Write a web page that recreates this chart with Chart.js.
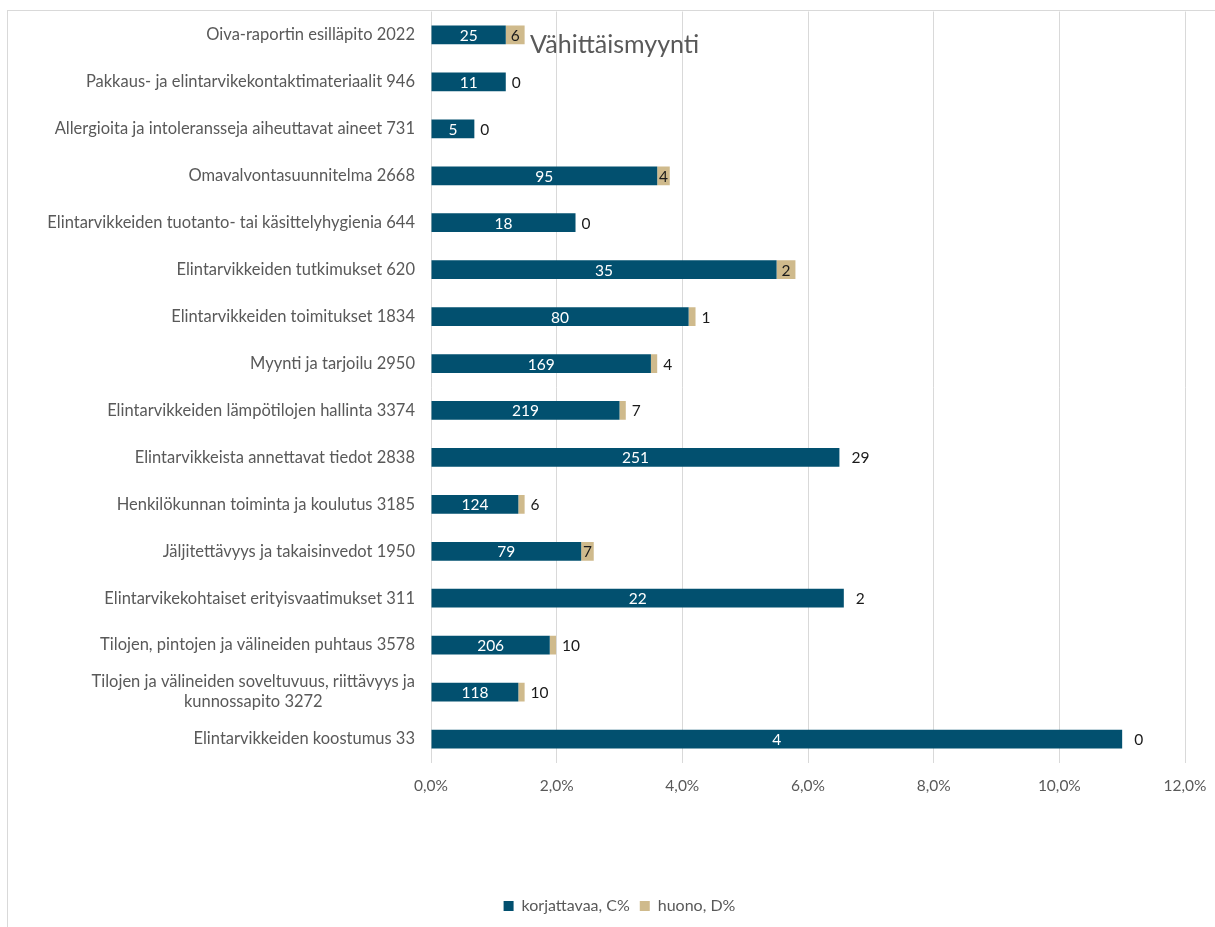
<!DOCTYPE html>
<html lang="fi">
<head>
<meta charset="utf-8">
<title>Vähittäismyynti</title>
<script src="https://cdn.jsdelivr.net/npm/chart.js@4/dist/chart.umd.min.js"></script>
<style>
  html, body { margin: 0; padding: 0; background: #ffffff; }
  #wrap { width: 1215px; height: 927px; position: relative; }
</style>
</head>
<body>
<div id="wrap"><canvas id="chart" width="1215" height="927"></canvas></div>
<script>
// Inspection topics (count of inspections after the name)
const categories = [
  'Oiva-raportin esilläpito 2022',
  'Pakkaus- ja elintarvikekontaktimateriaalit 946',
  'Allergioita ja intoleransseja aiheuttavat aineet 731',
  'Omavalvontasuunnitelma 2668',
  'Elintarvikkeiden tuotanto- tai käsittelyhygienia 644',
  'Elintarvikkeiden tutkimukset 620',
  'Elintarvikkeiden toimitukset 1834',
  'Myynti ja tarjoilu 2950',
  'Elintarvikkeiden lämpötilojen hallinta 3374',
  'Elintarvikkeista annettavat tiedot 2838',
  'Henkilökunnan toiminta ja koulutus 3185',
  'Jäljitettävyys ja takaisinvedot 1950',
  'Elintarvikekohtaiset erityisvaatimukset 311',
  'Tilojen, pintojen ja välineiden puhtaus 3578',
  ['Tilojen ja välineiden soveltuvuus, riittävyys ja', 'kunnossapito 3272'],
  'Elintarvikkeiden koostumus 33'
];

// Share of grades (percent)
const correctPct = [1.19, 1.19, 0.69, 3.60, 2.30, 5.50, 4.10, 3.50, 3.00, 6.50, 1.39, 2.39, 6.57, 1.89, 1.39, 11.0];
const poorPct    = [0.30, 0.00, 0.00, 0.20, 0.00, 0.30, 0.11, 0.10, 0.10, 0.00, 0.10, 0.20, 0.00, 0.10, 0.10, 0.00];

// Number of grades shown as bar labels
const correctCount = [25, 11, 5, 95, 18, 35, 80, 169, 219, 251, 124, 79, 22, 206, 118, 4];
const poorCount    = [6, 0, 0, 4, 0, 2, 1, 4, 7, 29, 6, 7, 2, 10, 10, 0];

const seriesNames = ['korjattavaa, C%', 'huono, D%'];
const xTickValues = [0, 2, 4, 6, 8, 10, 12];
const titleText = 'Vähittäismyynti';

const FONT = 'Lato, "Open Sans", "Liberation Sans", sans-serif';
const GREY = '#595959';
const BLUE = '#02506f';
const BEIGE = '#cfba8c';

// Outer frame of the chart
const framePlugin = {
  id: 'frame',
  beforeDraw(chart) {
    const ctx = chart.ctx;
    ctx.save();
    ctx.fillStyle = '#ffffff';
    ctx.fillRect(0, 0, chart.width, chart.height);
    ctx.strokeStyle = '#d9d9d9';
    ctx.lineWidth = 1;
    ctx.strokeRect(7.5, 10.5, chart.width + 20, chart.height + 20);
    ctx.restore();
  }
};

// Shift the legend so it sits centred under the whole frame
const legendShiftPlugin = {
  id: 'legendShift',
  afterLayout(chart) {
    if (chart.legend) {
      chart.legend.left += 27;
      chart.legend.right += 27;
    }
  }
};

// Category labels: right-aligned block, wrapped lines centred on each other
const categoryLabelPlugin = {
  id: 'categoryLabels',
  afterDraw(chart) {
    const ctx = chart.ctx;
    const yScale = chart.scales.y;
    const right = chart.chartArea.left - 16;
    const lineH = 20;
    ctx.save();
    ctx.font = '16.5px ' + FONT;
    ctx.fillStyle = GREY;
    ctx.textAlign = 'center';
    ctx.textBaseline = 'middle';
    categories.forEach((lab, i) => {
      const lines = Array.isArray(lab) ? lab : [lab];
      const maxW = Math.max(...lines.map(l => ctx.measureText(l).width));
      const cx = right - maxW / 2;
      const cy = yScale.getPixelForValue(i);
      lines.forEach((l, j) => {
        ctx.fillText(l, cx, cy + (j - (lines.length - 1) / 2) * lineH);
      });
    });
    ctx.restore();
  }
};

// Count labels on the bars
const valueLabelPlugin = {
  id: 'valueLabels',
  afterDatasetsDraw(chart) {
    const ctx = chart.ctx;
    ctx.save();
    ctx.font = '15.5px ' + FONT;
    ctx.textBaseline = 'middle';
    const metaC = chart.getDatasetMeta(0);
    const metaD = chart.getDatasetMeta(1);
    metaC.data.forEach((bar, i) => {
      ctx.fillStyle = '#ffffff';
      ctx.textAlign = 'center';
      ctx.fillText(String(correctCount[i]), (bar.x + bar.base) / 2, bar.y + 1);
    });
    metaD.data.forEach((bar, i) => {
      const w = Math.abs(bar.x - bar.base);
      ctx.fillStyle = '#1a1a1a';
      if (w >= 10) {
        ctx.textAlign = 'center';
        ctx.fillText(String(poorCount[i]), (bar.x + bar.base) / 2, bar.y + 1);
      } else {
        ctx.textAlign = 'left';
        const gap = poorPct[i] === 0 && correctPct[i] > 6 ? 12 : 6;
        ctx.fillText(String(poorCount[i]), Math.max(bar.x, bar.base) + gap, bar.y + 1);
      }
    });
    ctx.restore();
  }
};

// Title placed inside the plot, next to the first bars
const titlePlugin = {
  id: 'innerTitle',
  afterDraw(chart) {
    const ctx = chart.ctx;
    ctx.save();
    ctx.font = '25px ' + FONT;
    ctx.fillStyle = GREY;
    ctx.textAlign = 'left';
    ctx.textBaseline = 'alphabetic';
    ctx.fillText(titleText, chart.chartArea.left + 99, 53);
    ctx.restore();
  }
};

new Chart(document.getElementById('chart'), {
  type: 'bar',
  data: {
    labels: categories,
    datasets: [
      { label: seriesNames[0], data: correctPct, backgroundColor: BLUE, borderWidth: 0 },
      { label: seriesNames[1], data: poorPct, backgroundColor: BEIGE, borderWidth: 0 }
    ]
  },
  options: {
    indexAxis: 'y',
    responsive: false,
    animation: false,
    devicePixelRatio: 1,
    layout: { padding: { top: 11.5, left: 0, right: 30, bottom: 3 } },
    datasets: { bar: { barPercentage: 0.4, categoryPercentage: 1.0 } },
    scales: {
      x: {
        stacked: true,
        min: 0,
        max: 12,
        afterBuildTicks(scale) { scale.ticks = xTickValues.map(v => ({ value: v })); },
        ticks: {
          color: GREY,
          font: { family: FONT, size: 15.5 },
          padding: 14,
          callback: v => v.toFixed(1).replace('.', ',') + '%'
        },
        grid: { color: '#d9d9d9', lineWidth: 1, drawTicks: false },
        border: { display: false },
        afterFit(scale) {
          scale.height = 125.5;
          scale.paddingLeft = 0;
          scale.paddingRight = 0;
        }
      },
      y: {
        stacked: true,
        ticks: { display: false },
        grid: { display: false },
        border: { display: false },
        afterFit(scale) { scale.width = 431; }
      }
    },
    plugins: {
      legend: {
        position: 'bottom',
        labels: {
          color: GREY,
          font: { family: FONT, size: 16 },
          boxWidth: 10,
          boxHeight: 10,
          padding: 10
        }
      },
      tooltip: { enabled: false },
      title: { display: false }
    }
  },
  plugins: [framePlugin, legendShiftPlugin, categoryLabelPlugin, valueLabelPlugin, titlePlugin]
});
</script>
</body>
</html>
